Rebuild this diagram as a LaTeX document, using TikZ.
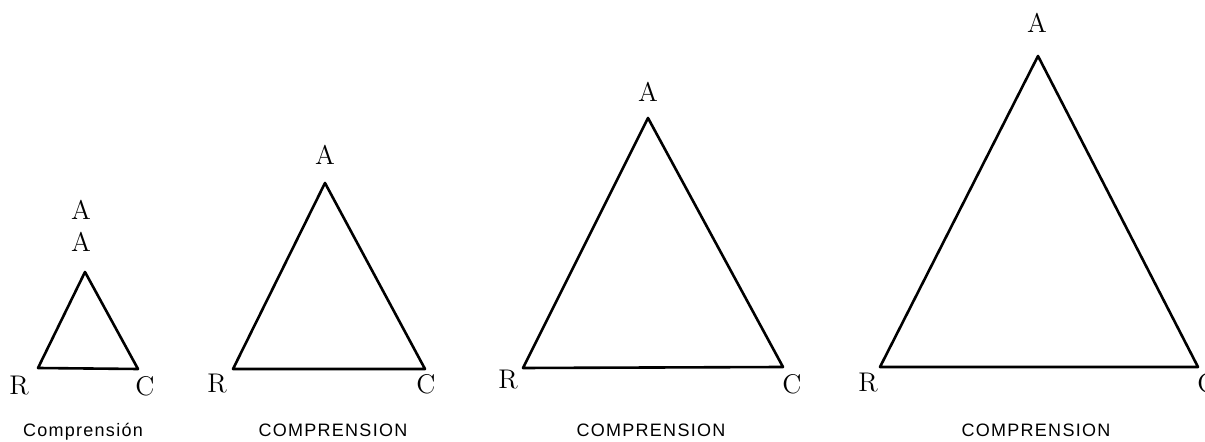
\documentclass[tikz,border=0pt]{standalone}
\usepackage{fontspec}
\setsansfont{Liberation Sans}
\begin{document}
\begin{tikzpicture}[x=0.5pt,y=-0.5pt,
  side/.style={line width=1.3pt,line join=round,line cap=round},
  vlabel/.style={inner sep=0pt,font=\fontsize{13.5}{15}\selectfont},
  caption/.style={inner sep=0pt,anchor=base,font=\sffamily\addfontfeature{LetterSpace=7}\fontsize{9}{10}\selectfont}]
\useasboundingbox (0,0) rectangle (1205,442);
\clip (0,0) rectangle (1205,442);
% triangle 1
\coordinate (a1) at (85,272); \coordinate (r1) at (38,368); \coordinate (c1) at (138,369);
\draw[side] (a1) -- (c1) -- (r1) -- cycle;
\node[vlabel] (la1u) at (81,210) {A};
\node[vlabel] (la1) at (81,242) {A};
\node[vlabel] (lr1) at (19,386) {R};
\node[vlabel] (lc1) at (145,386) {C};
\node[caption] (cap1) at (83,437) {Comprensión};
% triangle 2
\coordinate (a2) at (325,183); \coordinate (r2) at (233,369); \coordinate (c2) at (425,369);
\draw[side] (a2) -- (c2) -- (r2) -- cycle;
\node[vlabel] (la2) at (325,155) {A};
\node[vlabel] (lr2) at (217,384) {R};
\node[vlabel] (lc2) at (426,384) {C};
\node[caption] (cap2) at (333,437) {COMPRENSION};
% triangle 3
\coordinate (a3) at (648,118); \coordinate (r3) at (523,368); \coordinate (c3) at (783,367);
\draw[side] (a3) -- (c3) -- (r3) -- cycle;
\node[vlabel] (la3) at (648,92) {A};
\node[vlabel] (lr3) at (508,380) {R};
\node[vlabel] (lc3) at (792,384) {C};
\node[caption] (cap3) at (651,437) {COMPRENSION};
% triangle 4
\coordinate (a4) at (1038,56); \coordinate (r4) at (880,367); \coordinate (c4) at (1198,367);
\draw[side] (a4) -- (c4) -- (r4) -- cycle;
\node[vlabel] (la4) at (1037,23) {A};
\node[vlabel] (lr4) at (868,383) {R};
\node[vlabel] (lc4) at (1207,383) {C};
\node[caption] (cap4) at (1036,437) {COMPRENSION};
\end{tikzpicture}
\end{document}
